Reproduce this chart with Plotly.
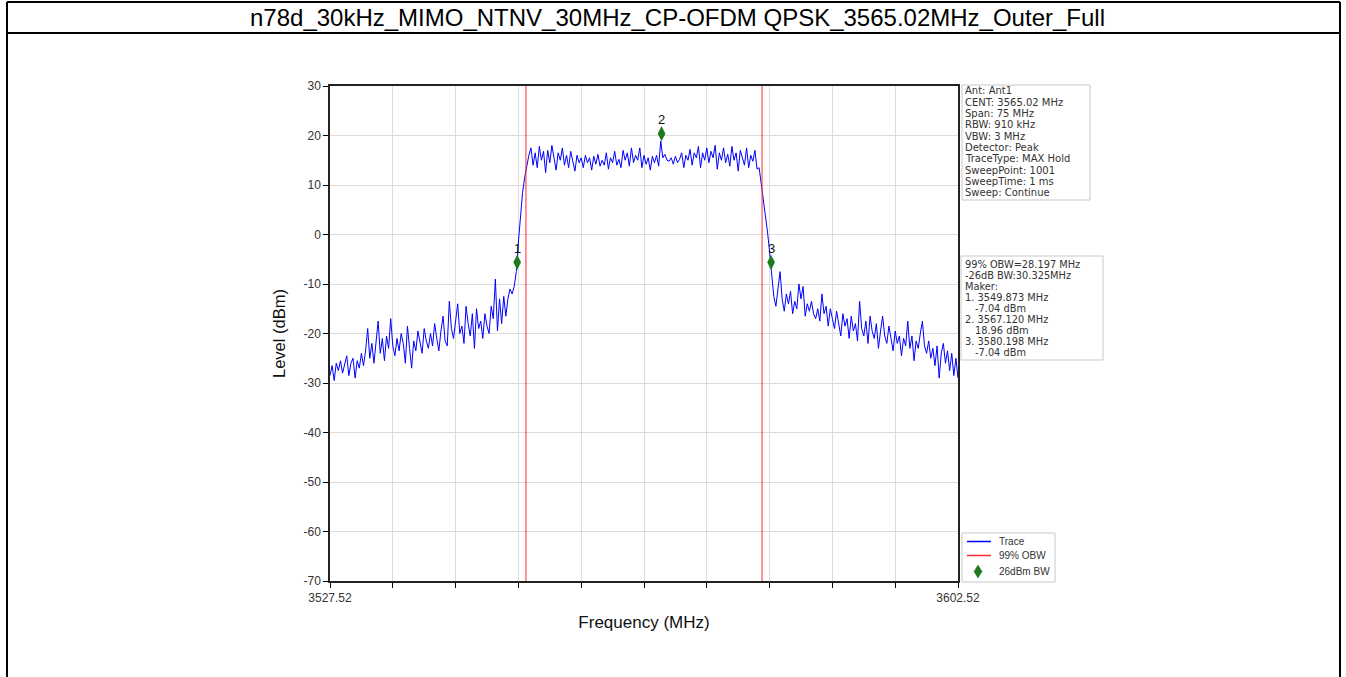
import numpy as np
import plotly.graph_objects as go

# ---------------- data ----------------
FREQ_START = 3527.52
FREQ_STOP = 3602.52

level_left_skirt = [
    -28.5, -26.5, -29.5, -26, -27.5, -25.5, -28, -26, -24.5, -28.5, -26, -25, -29, -25.5,
    -27, -24, -26.5, -23.5, -19, -25,
    -22, -26, -21.5, -17.5, -24, -21, -25.5, -20.5, -23, -17, -22.5, -24.5, -21, -23.5,
    -20, -22, -26, -18.5, -23, -27, -21.5,
    -23.5, -19.5, -22, -24, -19, -21.5, -23, -20, -22.5, -18, -21, -23.5, -19.5, -16.5,
    -21.5, -22.5, -13.5, -19, -21, -17.5,
    -14, -20, -18.5, -22, -14.5, -18, -20.5, -16, -23, -15, -19, -17.5, -21, -16,
    -18.5, -20, -14.5, -17, -9, -19.5, -13, -18, -12.5, -16.5,
]
level_rise = [-13, -11, -12, -10.5, -7.5, -1.5, 4.5, 8.5, 11.5, 14, 16]
level_passband = [
    17.5, 14, 16.5, 13.5, 17.8, 15, 16.8, 12.5, 17, 14.5, 18, 15.5, 13, 16.5, 15, 17.5,
    14, 16, 13.5, 16.8, 15, 12.8, 16, 14.5, 15.5,
    13.5, 16, 14.5, 15.5, 13, 15.8, 14.2, 16.2, 13.8, 15, 14, 16.5, 13.2, 15.5, 14.5,
    16.8, 14, 15.2, 13.5, 17, 15, 16.5, 13.8, 17.5, 14.5, 16, 15, 17.5, 13.5, 16, 14.2,
    15.5, 13, 15.8, 14.5, 16, 13.8,
    18.9, 15.5, 16.2, 15, 14.8, 15.5, 14.2, 15.8, 14.5, 15.2, 16.5,
    13.5, 16, 15, 17.2, 14, 16.5, 15.5, 17.8, 13.5, 16.5, 15, 17.5, 14.5, 16.8, 15.5,
    18, 13.2, 16.5, 15, 17.5, 14.5, 16.2, 13.8, 17.8, 15, 16.5, 12.8, 17, 15.5, 14,
    17.5, 13.5, 16, 14.8, 17, 13.2,
]
level_fall = [13.5, 10.5, 6.5, 3.5, 0.5, -3.5, -8, -12.5]
level_right_skirt = [
    -14.5, -11, -7.5, -13, -15.5, -12, -14, -11.5, -16, -13.5, -15, -10, -13, -10.5,
    -16.5, -14, -15.5, -13.5, -16, -17, -15,
    -17.5, -12, -16, -14.5, -18.5, -15, -17, -19, -15.5, -18, -20.5, -16, -18.5, -17,
    -21, -16.5, -19.5, -18, -21.5,
    -13.5, -19, -20.5, -17.5, -22, -16.5, -19.5, -21, -18, -23, -19.5, -16.5, -20.5,
    -22, -18.5, -21, -23.5,
    -19.5, -22, -20.5, -24.5, -21, -22.5, -17.5, -23, -20.5, -25.5, -21.5, -23, -20,
    -17.5, -22.5, -24,
    -21.5, -25, -23, -26.5, -22.5, -29, -24, -22, -26, -23.5, -27.5, -24, -28.5, -25, -29,
]

marker_ids = ["1", "2", "3"]
marker_freq = [3549.873, 3567.120, 3580.198]
marker_level = [-7.04, 18.96, -7.04]

obw_center = 3565.02
obw_width = 28.197

x_tick_vals = [3527.52, 3535.02, 3542.52, 3550.02, 3557.52, 3565.02,
               3572.52, 3580.02, 3587.52, 3595.02, 3602.52]
x_tick_text = ["3527.52", "", "", "", "", "", "", "", "", "", "3602.52"]
y_tick_vals = [30, 20, 10, 0, -10, -20, -30, -40, -50, -60, -70]
y_tick_text = ["30", "20", "10", "0", "-10", "-20", "-30", "-40", "-50", "-60", "-70"]

legend_names = ["Trace", "99% OBW", "26dBm BW"]

title_text = "n78d_30kHz_MIMO_NTNV_30MHz_CP-OFDM QPSK_3565.02MHz_Outer_Full"
info_lines_1 = ["Ant: Ant1", "CENT: 3565.02 MHz", "Span: 75 MHz", "RBW: 910 kHz",
                "VBW: 3 MHz", "Detector: Peak", "TraceType: MAX Hold",
                "SweepPoint: 1001", "SweepTime: 1 ms", "Sweep: Continue"]
info_lines_2 = ["99% OBW=28.197 MHz", "-26dB BW:30.325MHz", "Maker:",
                "1. 3549.873 MHz", "   -7.04 dBm", "2. 3567.120 MHz",
                "   18.96 dBm", "3. 3580.198 MHz", "   -7.04 dBm"]

# ---------------- build ----------------
level = level_left_skirt + level_rise + level_passband + level_fall + level_right_skirt
freq = np.linspace(FREQ_START, FREQ_STOP, len(level))
obw_lo = obw_center - obw_width / 2
obw_hi = obw_center + obw_width / 2

W, H = 1346, 677
PL, PR, PT, PB = 330, 958, 86, 581  # plot area in px

TRACE_COLOR = "#0000ff"
OBW_COLOR = "#ff2a2a"
MARK_COLOR = "#1f7a1f"


def px_x(px):
    return (px - PL) / (PR - PL)


def px_y(py):
    return (PB - py) / (PB - PT)


FONT = "Liberation Sans, Arial, sans-serif"
INFO_FONT = "DejaVu Sans, Liberation Sans, sans-serif"

fig = go.Figure()
fig.add_trace(go.Scatter(x=freq, y=level, mode="lines", name=legend_names[0],
                         line=dict(color=TRACE_COLOR, width=1), showlegend=False))
fig.add_trace(go.Scatter(x=[obw_lo, obw_lo, None, obw_hi, obw_hi],
                         y=[-70, 30, None, -70, 30], mode="lines", name=legend_names[1],
                         line=dict(color=OBW_COLOR, width=1), showlegend=False))
# the instrument draws its marker diamonds just above the marked point
fig.add_trace(go.Scatter(x=marker_freq, y=marker_level, mode="markers", name=legend_names[2],
                         marker=dict(symbol="diamond-tall", size=11, color=MARK_COLOR,
                                     standoff=7, angle=180), showlegend=False))

annotations = []
for mid, mf, ml in zip(marker_ids, marker_freq, marker_level):
    annotations.append(dict(x=mf, y=ml, xref="x", yref="y", text=mid, showarrow=False,
                            yshift=21, font=dict(family=FONT, size=13, color="#111")))

annotations.append(dict(x=px_x(677), y=px_y(17), xref="paper", yref="paper",
                        text=title_text, showarrow=False, xanchor="center", yanchor="middle",
                        font=dict(family=FONT, size=24, color="#000")))

for k, t in enumerate(info_lines_1):
    annotations.append(dict(x=px_x(964), y=px_y(91 + 11.33 * k), xref="paper", yref="paper",
                            text=t, showarrow=False, xanchor="left", yanchor="middle",
                            borderpad=0,
                            font=dict(family=INFO_FONT, size=10, color="#333")))
for k, t in enumerate(info_lines_2):
    indent = 10 if t.startswith(" ") else 0
    annotations.append(dict(x=px_x(964 + indent), y=px_y(264 + 11 * k), xref="paper",
                            yref="paper", text=t.strip(), showarrow=False, xanchor="left",
                            yanchor="middle", borderpad=0,
                            font=dict(family=INFO_FONT, size=9.8, color="#333")))

shapes = []
# info boxes and legend box
for (x0, y0, x1, y1) in [(962, 85, 1090, 200), (961, 256, 1103, 360), (962, 533, 1055, 582)]:
    shapes.append(dict(type="rect", xref="paper", yref="paper",
                       x0=px_x(x0), x1=px_x(x1), y0=px_y(y0), y1=px_y(y1),
                       line=dict(color="#c8c8c8", width=1), fillcolor="white"))

# legend entries (drawn by hand to match the compact instrument legend)
leg_rows = [541.5, 555.5, 571.5]
for name, row, col in zip(legend_names[:2], leg_rows[:2], [TRACE_COLOR, OBW_COLOR]):
    shapes.append(dict(type="line", xref="paper", yref="paper",
                       x0=px_x(967), x1=px_x(991), y0=px_y(row), y1=px_y(row),
                       line=dict(color=col, width=1.5)))
cx, cy = 978, leg_rows[2]
shapes.append(dict(type="path", xref="paper", yref="paper",
                   path="M %f,%f L %f,%f L %f,%f L %f,%f Z" % (
                       px_x(cx), px_y(cy - 6.5), px_x(cx + 4), px_y(cy),
                       px_x(cx), px_y(cy + 6.5), px_x(cx - 4), px_y(cy)),
                   line=dict(color=MARK_COLOR, width=0.5), fillcolor=MARK_COLOR))
for name, row in zip(legend_names, leg_rows):
    annotations.append(dict(x=px_x(997), y=px_y(row), xref="paper", yref="paper",
                            text=name, showarrow=False, xanchor="left", yanchor="middle",
                            font=dict(family=FONT, size=10, color="#333")))

# outer table frame
for (x0, y0, x1, y1) in [(7, 2, 1340, 2), (7, 33, 1340, 33), (7, 2, 7, 677), (1340, 2, 1340, 677)]:
    shapes.append(dict(type="line", xref="paper", yref="paper",
                       x0=px_x(x0), x1=px_x(x1), y0=px_y(y0), y1=px_y(y1),
                       line=dict(color="#000", width=2)))

fig.update_layout(
    width=W, height=H,
    margin=dict(l=PL, r=W - PR, t=PT, b=H - PB, pad=0),
    paper_bgcolor="white", plot_bgcolor="white",
    font=dict(family=FONT, size=12, color="#222"),
    showlegend=False,
    annotations=annotations,
    shapes=shapes,
)
fig.update_xaxes(range=[FREQ_START, FREQ_STOP], tickmode="array", tickvals=x_tick_vals,
                 ticktext=x_tick_text, ticks="outside", ticklen=5, tickcolor="#000",
                 showgrid=True, gridcolor="#dcdcdc", gridwidth=1,
                 showline=True, linecolor="#222", linewidth=1.5, mirror=True,
                 zeroline=False, tickfont=dict(size=12, color="#333"),
                 title=dict(text="Frequency (MHz)", font=dict(size=17, color="#111"),
                            standoff=12))
fig.update_yaxes(range=[-70, 30], tickmode="array", tickvals=y_tick_vals,
                 ticktext=y_tick_text, ticks="outside", ticklen=5, tickcolor="#000",
                 showgrid=True, gridcolor="#dcdcdc", gridwidth=1,
                 showline=True, linecolor="#222", linewidth=1.5, mirror=True,
                 zeroline=False, tickfont=dict(size=12, color="#333"),
                 title=dict(text="Level (dBm)", font=dict(size=16.5, color="#111"),
                            standoff=14))

fig.write_html("out.html", config={"displayModeBar": False},
               post_script="document.body.style.margin='0';document.body.style.overflow='hidden';")
